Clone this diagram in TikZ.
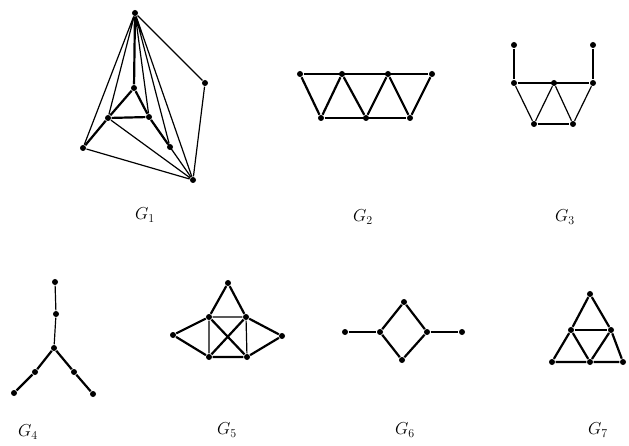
\documentclass[tikz,border=0pt]{standalone}
\usepackage{amsmath}
\begin{document}
\begin{tikzpicture}[x=1pt, y=-1pt, line width=1.2pt,
  dot/.style={circle, fill=black, inner sep=0pt, minimum size=6pt},
  lbl/.style={font=\LARGE},
  heavy/.style={line width=2.2pt}]
\useasboundingbox (0,0) rectangle (629,446);

% G1
\node[dot] (a) at (135,13) {};
\node[dot] (q) at (205,83) {};
\node[dot] (t) at (134,88) {};
\node[dot] (l) at (108,118) {};
\node[dot] (r) at (149,117) {};
\node[dot] (bl) at (83,148) {};
\node[dot] (p) at (170,147) {};
\node[dot] (br) at (193,180) {};
\draw[heavy] (a) -- (t) (t) -- (l) -- (r) -- (t) (l) -- (bl) (r) -- (p);
\draw (a) -- (bl) (a) -- (l) (a) -- (r) (a) -- (p) (a) -- (br) (a) -- (q) -- (br);
\draw (bl) -- (br) (l) -- (br) (p) -- (br) (r) -- (br);
\node[lbl] (g1) at (145,215) {$G_1$};

% G2
\node[dot] (u1) at (300,74) {};
\node[dot] (u2) at (342,74) {};
\node[dot] (u3) at (388,74) {};
\node[dot] (u4) at (432,74) {};
\node[dot] (w1) at (321,118) {};
\node[dot] (w2) at (366,118) {};
\node[dot] (w3) at (410,118) {};
\draw (u1) -- (u4);
\draw[heavy] (w1) -- (w3);
\draw[heavy] (u1) -- (w1) -- (u2) -- (w2) -- (u3) -- (w3) -- (u4);
\node[lbl] (g2) at (363,217) {$G_2$};

% G3
\node[dot] (c1) at (514,45) {};
\node[dot] (c2) at (593,45) {};
\node[dot] (m1) at (514,83) {};
\node[dot] (m2) at (554,83) {};
\node[dot] (m3) at (593,83) {};
\node[dot] (d1) at (534,124) {};
\node[dot] (d2) at (573,124) {};
\draw[heavy] (c1) -- (m1) (c2) -- (m3) (m1) -- (m3) (d1) -- (d2);
\draw (m1) -- (d1) -- (m2) -- (d2) -- (m3);
\node[lbl] (g3) at (565,217) {$G_3$};

% G4
\node[dot] (s1) at (55,282) {};
\node[dot] (s2) at (56,314) {};
\node[dot] (s0) at (54,348) {};
\node[dot] (s3) at (35,372) {};
\node[dot] (s4) at (14,393) {};
\node[dot] (s5) at (74,372) {};
\node[dot] (s6) at (93,394) {};
\draw (s1) -- (s2) -- (s0);
\draw[heavy] (s0) -- (s3) -- (s4) (s0) -- (s5) -- (s6);
\node[lbl] (g4) at (28,432) {$G_4$};

% G5
\node[dot] (k0) at (228,283) {};
\node[dot] (k1) at (209,317) {};
\node[dot] (k2) at (246,317) {};
\node[dot] (k3) at (173,335) {};
\node[dot] (k4) at (282,336) {};
\node[dot] (k5) at (209,357) {};
\node[dot] (k6) at (247,357) {};
\draw[heavy] (k0) -- (k1) (k0) -- (k2) (k1) -- (k6) (k2) -- (k5);
\draw[heavy] (k3) -- (k1) (k3) -- (k5) (k4) -- (k2) (k4) -- (k6) (k5) -- (k6);
\draw (k1) -- (k2) (k1) -- (k5) (k2) -- (k6);
\node[lbl] (g5) at (227,430) {$G_5$};

% G6
\node[dot] (h1) at (345,332) {};
\node[dot] (h2) at (380,332) {};
\node[dot] (h3) at (404,302) {};
\node[dot] (h4) at (427,332) {};
\node[dot] (h5) at (402,360) {};
\node[dot] (h6) at (462,332) {};
\draw[heavy] (h1) -- (h2) (h4) -- (h6);
\draw[heavy] (h2) -- (h3) -- (h4) -- (h5) -- (h2);
\node[lbl] (g6) at (405,430) {$G_6$};

% G7
\node[dot] (e0) at (590,294) {};
\node[dot] (e1) at (571,330) {};
\node[dot] (e2) at (611,330) {};
\node[dot] (e3) at (552,362) {};
\node[dot] (e4) at (590,362) {};
\node[dot] (e5) at (623,362) {};
\draw[heavy] (e0) -- (e1) -- (e3) -- (e4) -- (e5) -- (e2) -- (e0);
\draw[heavy] (e1) -- (e4) -- (e2);
\draw (e1) -- (e2);
\node[lbl] (g7) at (598,430) {$G_7$};

\end{tikzpicture}
\end{document}
